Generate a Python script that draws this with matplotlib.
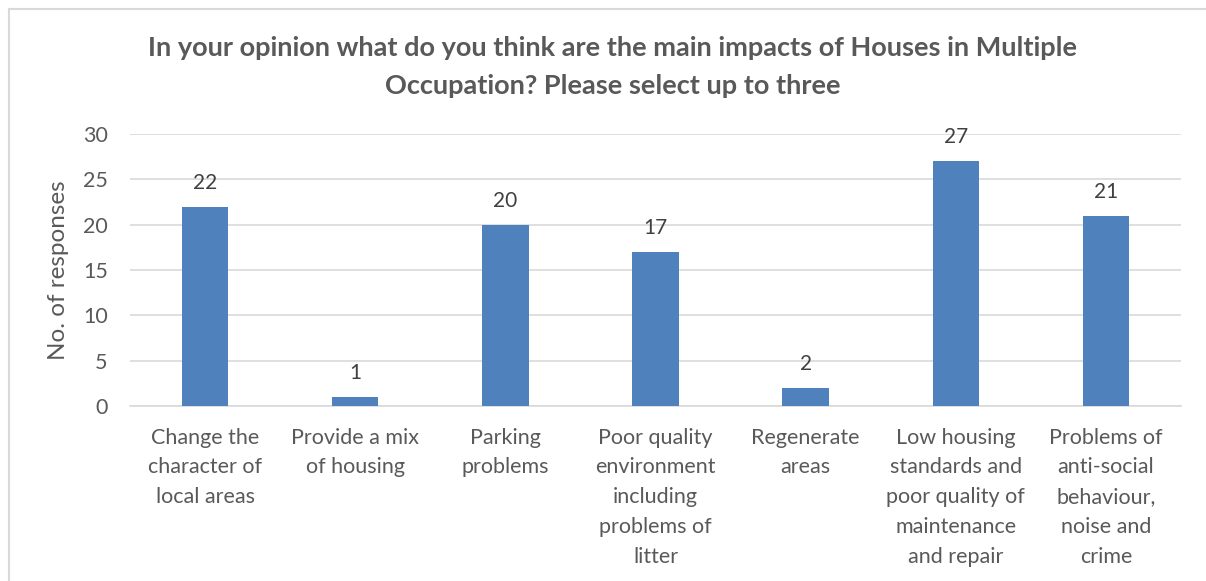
import matplotlib.pyplot as plt
from matplotlib.lines import Line2D

categories = ["Change the\ncharacter of\nlocal areas",
              "Provide a mix\nof housing",
              "Parking\nproblems",
              "Poor quality\nenvironment\nincluding\nproblems of\nlitter",
              "Regenerate\nareas",
              "Low housing\nstandards and\npoor quality of\nmaintenance\nand repair",
              "Problems of\nanti-social\nbehaviour,\nnoise and\ncrime"]
responses = [22, 1, 20, 17, 2, 27, 21]
yticks = [0, 5, 10, 15, 20, 25, 30]

title = ("In your opinion what do you think are the main impacts of Houses in Multiple\n"
         "Occupation? Please select up to three")

plt.rcParams['font.family'] = ['Lato', 'DejaVu Sans']
grey = '#595959'

fig = plt.figure(figsize=(12.06, 5.81), dpi=100)
ax = fig.add_axes([130/1206, 1-406/581, 1051/1206, 272/581])

x = range(len(categories))
bars = ax.bar(x, responses, width=0.31, color='#4F81BD', zorder=3)
for xi, v in zip(x, responses):
    ax.annotate(str(v), (xi, v), xytext=(0, 10), textcoords='offset points',
                ha='center', va='bottom', fontsize=15, color='#404040')

ax.set_xlim(-0.5, len(categories)-0.5)
ax.set_ylim(0, 30)
ax.set_yticks(yticks)
ax.grid(axis='y', color='#D9D9D9', linewidth=1.2, zorder=0)
for s in ['top', 'right', 'left']:
    ax.spines[s].set_visible(False)
ax.spines['bottom'].set_color('#D9D9D9')
ax.spines['bottom'].set_linewidth(1.2)
ax.tick_params(axis='y', length=0, pad=16, labelsize=15.5, labelcolor=grey)
ax.tick_params(axis='x', length=0, pad=15.5, labelsize=15.5, labelcolor=grey)
ax.set_xticks(list(x))
ax.set_xticklabels(categories, linespacing=1.61, va='top')
ax.set_ylabel("No. of responses", fontsize=17.5, color=grey, labelpad=10)

fig.text(0.508, 1-67/581, title, ha='center', va='center', fontsize=19.5,
         fontweight='bold', color=grey, linespacing=1.75)

# chart frame (top and left edges visible in the source crop)
fig.add_artist(Line2D([9/1206, 1], [1-8.5/581]*2, color='#D9D9D9', lw=1.5))
fig.add_artist(Line2D([9/1206]*2, [0, 1-8.5/581], color='#D9D9D9', lw=1.5))

fig.savefig('out.png', dpi=100)
